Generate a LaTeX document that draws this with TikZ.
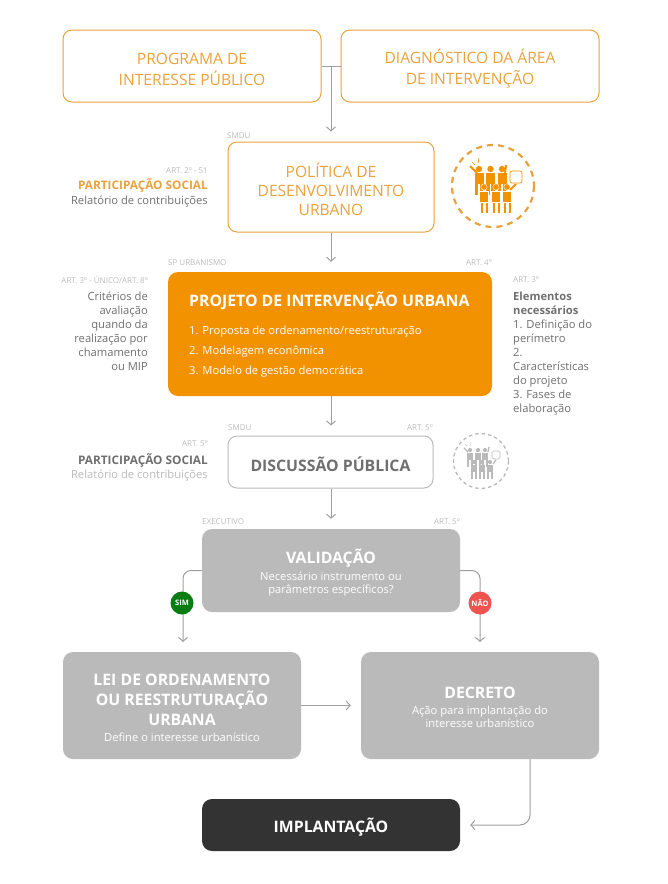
\documentclass[tikz,border=0pt]{standalone}
\usepackage{fontspec}
\setmainfont{Open Sans}
\usetikzlibrary{arrows.meta}
\definecolor{laranja}{HTML}{F39200}
\definecolor{linha}{HTML}{E9A23B}
\definecolor{cinza}{HTML}{BABABA}
\definecolor{texto}{HTML}{6F6F6F}
\definecolor{verde}{HTML}{0A7D12}
\definecolor{vermelho}{HTML}{EF5350}
\newcommand{\fsz}[1]{\fontsize{#1}{#1}\selectfont}
\newcommand{\tit}{\bfseries\fsz{15.8}}
\newcommand{\sub}{\fsz{11.2}}
\newcommand{\topo}[1]{\rule{0pt}{#1pt}}
\tikzset{
  outbox/.style={draw=linha, line width=1pt, rounded corners=9pt, align=center, inner sep=0pt, text=linha, font=\fsz{15.6}},
  fillbox/.style={fill=cinza, rounded corners=10pt, align=center, inner sep=0pt, text=white},
  art/.style={text=cinza, font=\fsz{8}, inner sep=0pt},
  side/.style={text=texto, font=\fontsize{11.2}{14}\selectfont, inner sep=0pt},
  item/.style={text=white, font=\sub, anchor=west, inner sep=0pt},
  flow/.style={draw=gray!75, line width=1pt, ->},
  badge/.style={circle, minimum size=23pt, inner sep=0pt, text=white, font=\bfseries\fsz{7.5}},
  person/.pic={
    \fill[pic actions] (0,0) circle (3.2);
    \fill[pic actions] (-4.5,4) rectangle (4.5,15);
    \fill[pic actions] (-4.2,15) rectangle (-0.8,26);
    \fill[pic actions] (0.8,15) rectangle (4.2,26);
  },
}
\begin{document}
\begin{tikzpicture}[x=1pt, y=-1pt, >={Straight Barb[length=4pt,width=9pt]}]
  \useasboundingbox (0,0) rectangle (668,884);
  % caixas
  \node[outbox, minimum width=258pt, minimum height=72pt] (programa) at (192,66) {\topo{18}PROGRAMA DE\\[5pt]INTERESSE PÚBLICO};
  \node[outbox, minimum width=258pt, minimum height=72pt] (diagnostico) at (470,66) {\topo{20}DIAGNÓSTICO DA ÁREA\\[5pt]DE INTERVENÇÃO};
  \node[outbox, minimum width=206pt, minimum height=90pt] (politica) at (331,187) {\topo{19}POLÍTICA DE\\[3.5pt]DESENVOLVIMENTO\\[3.5pt]URBANO};
  \node[fill=laranja, rounded corners=10pt, minimum width=324pt, minimum height=124pt, inner sep=0pt] (projeto) at (330,334) {};
  \node[text=white, font=\tit, anchor=west, inner sep=0pt] (titulo) at (189,301) {PROJETO DE INTERVENÇÃO URBANA};
  \node[item] (item1) at (189,332) {1. Proposta de ordenamento/reestruturação};
  \node[item] (item2) at (189,352) {2. Modelagem econômica};
  \node[item] (item3) at (189,372) {3. Modelo de gestão democrática};
  \node[draw=cinza, line width=1pt, rounded corners=9pt, minimum width=205pt, minimum height=52pt, inner sep=0pt, text=texto, font=\tit] (discussao) at (330.5,462) {\topo{19}DISCUSSÃO PÚBLICA};
  \node[fillbox, minimum width=258pt, minimum height=83pt] (validacao) at (331,570.5) {{\tit\topo{19}VALIDAÇÃO}\\[4pt]\sub Necessário instrumento ou\\[1pt]\sub parâmetros específicos?};
  \node[fillbox, minimum width=238pt, minimum height=107pt] (lei) at (182,705.5) {{\tit\topo{16}LEI DE ORDENAMENTO}\\[4pt]{\tit OU REESTRUTURAÇÃO}\\[4pt]{\tit URBANA}\\[4pt]\sub Define o interesse urbanístico};
  \node[fillbox, minimum width=238pt, minimum height=107pt] (decreto) at (480,705.5) {{\tit\topo{16}DECRETO}\\[4pt]\sub Ação para implantação do\\[1pt]\sub interesse urbanístico};
  \node[fill=black!80, rounded corners=10pt, minimum width=258pt, minimum height=52pt, inner sep=0pt, text=white, font=\tit] (implantacao) at (331,825) {\topo{19}IMPLANTAÇÃO};
  % conectores
  \coordinate (juncao) at (331,66);
  \coordinate (simfim) at (183,642);
  \coordinate (naofim) at (480,642);
  \coordinate (saida) at (530,759);
  \coordinate (desce) at (530,825);
  \draw[draw=gray!75, line width=1pt] (programa.east) -- (diagnostico.west);
  \draw[flow, shorten >=10pt] (juncao) -- (politica.north);
  \draw[flow, shorten >=10pt] (politica.south) -- (politica.south |- projeto.north);
  \draw[flow, shorten >=10pt] (politica.south |- projeto.south) -- (politica.south |- discussao.north);
  \draw[flow, shorten >=10pt] (politica.south |- discussao.south) -- (validacao.north);
  \draw[flow, rounded corners=8pt] (validacao.west) -| (simfim);
  \draw[flow, rounded corners=8pt] (validacao.east) -| (naofim);
  \draw[flow, shorten >=10pt] (lei.east) -- (decreto.west);
  \draw[flow, rounded corners=10pt, shorten >=10pt] (saida) -- (desce) -- (implantacao.east);
  \node[badge, fill=verde] (sim) at (182,603) {SIM};
  \node[badge, fill=vermelho] (nao) at (480,603) {NÃO};
  % textos laterais
  \node[art, anchor=east] (art2) at (208,170.5) {ART. 2º - 51};
  \node[side, anchor=east, text=linha, font=\bfseries\fsz{11.8}] (part1) at (208,185) {PARTICIPAÇÃO SOCIAL};
  \node[side, anchor=east] (rel1) at (208,202) {Relatório de contribuições};
  \node[art, anchor=west] (smdu1) at (227,136) {SMDU};
  \node[art, anchor=west] (spurb) at (168,263) {SP URBANISMO};
  \node[art, anchor=east] (art4) at (492,263) {ART. 4º};
  \node[art, anchor=east] (art3a) at (148,280) {ART. 3º - ÚNICO/ART. 8º};
  \node[side, anchor=north east, align=right] (criterios) at (148,291.5) {Critérios de\\avaliação\\quando da\\realização por\\chamamento\\ou MIP};
  \node[art, anchor=west] (art3b) at (513,280) {ART. 3º};
  \node[side, anchor=north west, align=left] (elementos) at (513,291.5) {\textbf{Elementos}\\\textbf{necessários}\\1. Definição do\\perímetro\\2.\\Características\\do projeto\\3. Fases de\\elaboração};
  \node[art, anchor=west] (smdu2) at (228,428) {SMDU};
  \node[art, anchor=east] (art5a) at (433,428) {ART. 5º};
  \node[art, anchor=east] (art5b) at (208,444) {ART. 5º};
  \node[side, anchor=east, font=\bfseries\fsz{11.8}] (part2) at (208,460) {PARTICIPAÇÃO SOCIAL};
  \node[side, anchor=east, text=cinza] (rel2) at (208,476) {Relatório de contribuições};
  \node[art, anchor=west] (exec) at (202,522) {EXECUTIVO};
  \node[art, anchor=east] (art5c) at (460,522) {ART. 5º};
  % icones
  \draw[linha, line width=2.2pt, dash pattern=on 6pt off 5pt] (493,186) circle (41);
  \draw[cinza, line width=1.3pt, dash pattern=on 3.5pt off 3pt] (481,461) circle (27.5);
  \foreach \px in {479,490.5,502}
    \pic[fill=laranja] at (\px,169) {person};
  \foreach \px in {484,496,507}
    \pic[fill=laranja, draw=white, line width=0.4pt] at (\px,187) {person};
  \draw[laranja, line width=2pt] (477,173) -- (470,166);
  \draw[laranja, line width=2pt] (505,174) -- (506,165);
  \draw[laranja, line width=2pt] (510,190) -- (516,184);
  \draw[laranja, line width=0.7pt] (472,162) -- (475,165) (479,158) -- (478,163);
  \draw[draw=laranja, fill=white, line width=0.7pt, rounded corners=2pt] (510,171) rectangle (522,183);
  \foreach \px in {470,478,485}
    \pic[fill=cinza, scale=0.65] at (\px,450) {person};
  \foreach \px in {474,482,490}
    \pic[fill=cinza, scale=0.65] at (\px,462) {person};
  \draw[cinza, line width=1.3pt] (468,452) -- (464,448);
  \draw[cinza, line width=1.3pt] (488,452) -- (489,447);
  \draw[cinza, line width=1.3pt] (493,464) -- (496,460);
  \draw[cinza, line width=0.5pt] (465,444) -- (467,446) (470,442) -- (470,446);
  \draw[draw=cinza, fill=white, line width=0.6pt, rounded corners=1.5pt] (492,451) rectangle (500,459);
\end{tikzpicture}
\end{document}
